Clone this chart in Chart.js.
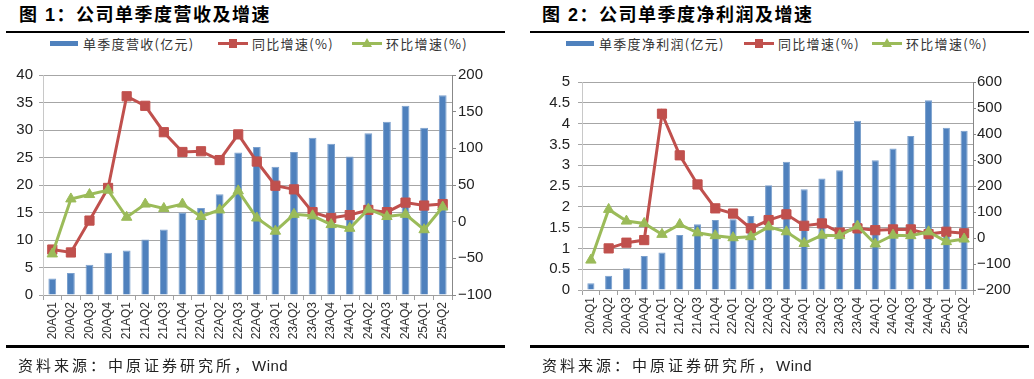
<!DOCTYPE html>
<html><head><meta charset="utf-8">
<script src="https://cdn.jsdelivr.net/npm/chart.js@4.4.0/dist/chart.umd.min.js"></script>
<style>
body{margin:0;background:#fff;width:1034px;height:379px;position:relative;overflow:hidden;font-family:"Liberation Sans","Noto Sans CJK SC",sans-serif;}
.title{position:absolute;top:4px;font-size:18px;font-weight:bold;letter-spacing:1.5px;color:#000;white-space:nowrap;line-height:22px}
.rule{position:absolute;background:#000}
.item{position:absolute;top:36px;display:flex;align-items:center;font-size:13px;color:#333;white-space:nowrap;line-height:16px;letter-spacing:1.3px;font-family:"Noto Sans CJK SC","Liberation Sans",sans-serif}
.sw{position:relative;width:30px;height:14px;margin-right:4px;display:inline-block}
.sw .ln{position:absolute;left:0;top:5px;width:30px;height:3px}
.sw .bar{position:absolute;left:1px;top:4px;width:28px;height:5px;background:#4F81BD}
.sw .sq{position:absolute;left:11px;top:2px;width:8px;height:9px;background:#C0504D}
.sw .tri{position:absolute;left:10px;top:1px;width:0;height:0;border-left:5px solid transparent;border-right:5px solid transparent;border-bottom:9px solid #9BBB59}
.src{position:absolute;top:354px;font-size:15px;color:#222;letter-spacing:3px;white-space:nowrap;font-family:"Noto Sans CJK SC","Liberation Sans",sans-serif}
.src span{font-family:"Liberation Sans",sans-serif;letter-spacing:0.5px}
canvas{position:absolute}
</style></head>
<body>
<div class="title" style="left:19px">图 1：公司单季度营收及增速</div>
<div class="rule" style="left:6px;top:31px;width:499px;height:2px"></div>
<div class="item" style="left:49px"><span class="sw"><span class="bar"></span></span>单季度营收(亿元)</div>
<div class="item" style="left:218px"><span class="sw"><span class="ln" style="background:#C0504D"></span><span class="sq"></span></span>同比增速(%)</div>
<div class="item" style="left:352px"><span class="sw"><span class="ln" style="background:#9BBB59"></span><span class="tri"></span></span>环比增速(%)</div>
<canvas id="c1" width="505" height="290" style="left:0;top:60px"></canvas>
<div class="rule" style="left:6px;top:345px;width:499px;height:3px"></div>
<div class="src" style="left:18px">资料来源：中原证券研究所，<span>Wind</span></div>

<div class="title" style="left:542px">图 2：公司单季度净利润及增速</div>
<div class="rule" style="left:530px;top:31px;width:499px;height:2px"></div>
<div class="item" style="left:565px"><span class="sw"><span class="bar"></span></span>单季度净利润(亿元)</div>
<div class="item" style="left:744px"><span class="sw"><span class="ln" style="background:#C0504D"></span><span class="sq"></span></span>同比增速(%)</div>
<div class="item" style="left:872px"><span class="sw"><span class="ln" style="background:#9BBB59"></span><span class="tri"></span></span>环比增速(%)</div>
<canvas id="c2" width="514" height="290" style="left:520px;top:60px"></canvas>
<div class="rule" style="left:530px;top:345px;width:499px;height:3px"></div>
<div class="src" style="left:542px">资料来源：中原证券研究所，<span>Wind</span></div>

<script>
const categories = ["20AQ1","20AQ2","20AQ3","20AQ4","21AQ1","21AQ2","21AQ3","21AQ4","22AQ1","22AQ2","22AQ3","22AQ4","23AQ1","23AQ2","23AQ3","23AQ4","24AQ1","24AQ2","24AQ3","24AQ4","25AQ1","25AQ2"];

// Chart 1: revenue
const revenue = [3.0,4.0,5.5,7.7,8.1,10.1,11.9,15.0,15.8,18.3,25.9,26.9,23.3,26.0,28.6,27.5,25.2,29.4,31.5,34.4,30.4,36.3];
const revenueYoY = [-38,-42,1.5,46,171,158,122,95,96,84,119,82,49,44,13,5,9,16,13,26,22,24];
const revenueQoQ = [-44,31,37,43,6,24,18,24,7,16,42,5,-13,10,8,-4,-9,17,7,10,-11,20];

// Chart 2: net profit
const profit = [0.16,0.34,0.52,0.82,0.90,1.32,1.58,1.68,1.70,1.78,2.52,3.08,2.42,2.68,2.88,4.07,3.12,3.40,3.70,4.56,3.90,3.83];
const profitYoY = [null,-40,-18,-8,478,318,206,114,94,37,69,91,47,56,21,37,30,33,33,15,24,18];
const profitQoQ = [-85,110,65,56,14,52,20,9,1,5,43,24,-21,11,9,46,-23,11,9,24,-14,-4];

const leftTicks1 = {min:0,max:40,step:5};
const rightTicks1 = {min:-100,max:200,step:50};
const leftTicks2 = {min:0,max:5,step:0.5};
const rightTicks2 = {min:-200,max:600,step:100};

const tickFont = {family:"Liberation Sans", size:15};
const minusFmt = v => String(v).replace('-', '\u2212');

function build(id, bars, yoy, qoq, lt, rt, g) {
  new Chart(document.getElementById(id), {
    data: {
      labels: categories,
      datasets: [
        {type:'line', data:qoq, yAxisID:'y1', borderColor:'#9BBB59', backgroundColor:'#9BBB59', borderWidth:3, pointStyle:'triangle', pointRadius:6, pointBorderWidth:1, tension:0, order:1},
        {type:'line', data:yoy, yAxisID:'y1', borderColor:'#C0504D', backgroundColor:'#C0504D', borderWidth:3, pointStyle:'rect', pointRadius:6.5, pointBorderWidth:1, tension:0, order:2},
        {type:'bar', data:bars, yAxisID:'y', backgroundColor:'#4F81BD', borderColor:'#7BA0CD', borderWidth:{left:1,right:1,top:1,bottom:0}, barPercentage:g.barPct, categoryPercentage:1, order:3}
      ]
    },
    options: {
      responsive:false, animation:false, devicePixelRatio:1,
      layout:{padding:{top:g.top,left:0,right:0,bottom:0}},
      plugins:{legend:{display:false}, tooltip:{enabled:false}},
      scales:{
        x:{
          offset:true,
          grid:{offset:true, drawOnChartArea:false, drawTicks:true, tickLength:5, color:'#a0a0a0'},
          border:{display:true, color:'#a0a0a0'},
          ticks:{minRotation:90, maxRotation:90, autoSkip:false, font:{family:"Liberation Sans", size:12}, color:'#333', padding:2},
          afterFit(s){ s.height = g.xh; }
        },
        y:{
          position:'left', min:lt.min, max:lt.max,
          grid:{color:'#a6a6a6', tickColor:'#a6a6a6', tickLength:4, lineWidth:1},
          border:{display:true, color:'#c8c8c8'},
          ticks:{stepSize:lt.step, autoSkip:false, font:tickFont, color:'#222', padding:g.lpad,
                 callback:v => Number.isInteger(v) ? String(v) : v.toFixed(1)},
          afterFit(s){ s.width = g.lw; }
        },
        y1:{
          position:'right', min:rt.min, max:rt.max,
          grid:{drawOnChartArea:false, drawTicks:true, tickLength:g.rtick, color:'#888'},
          border:{display:true, color:'#888'},
          ticks:{stepSize:rt.step, autoSkip:false, font:tickFont, color:'#222', padding:g.rpad, callback:minusFmt},
          afterFit(s){ s.width = g.rw; }
        }
      }
    }
  });
}

build('c1', revenue, revenueYoY, revenueQoQ, leftTicks1, rightTicks1,
      {top:13, xh:55, lw:43, rw:53, lpad:6, rpad:2, rtick:4, barPct:0.42});
build('c2', profit, profitYoY, profitQoQ, leftTicks2, rightTicks2,
      {top:22, xh:60, lw:62, rw:61, lpad:8, rpad:1, rtick:3, barPct:0.4});
</script>
</body></html>
